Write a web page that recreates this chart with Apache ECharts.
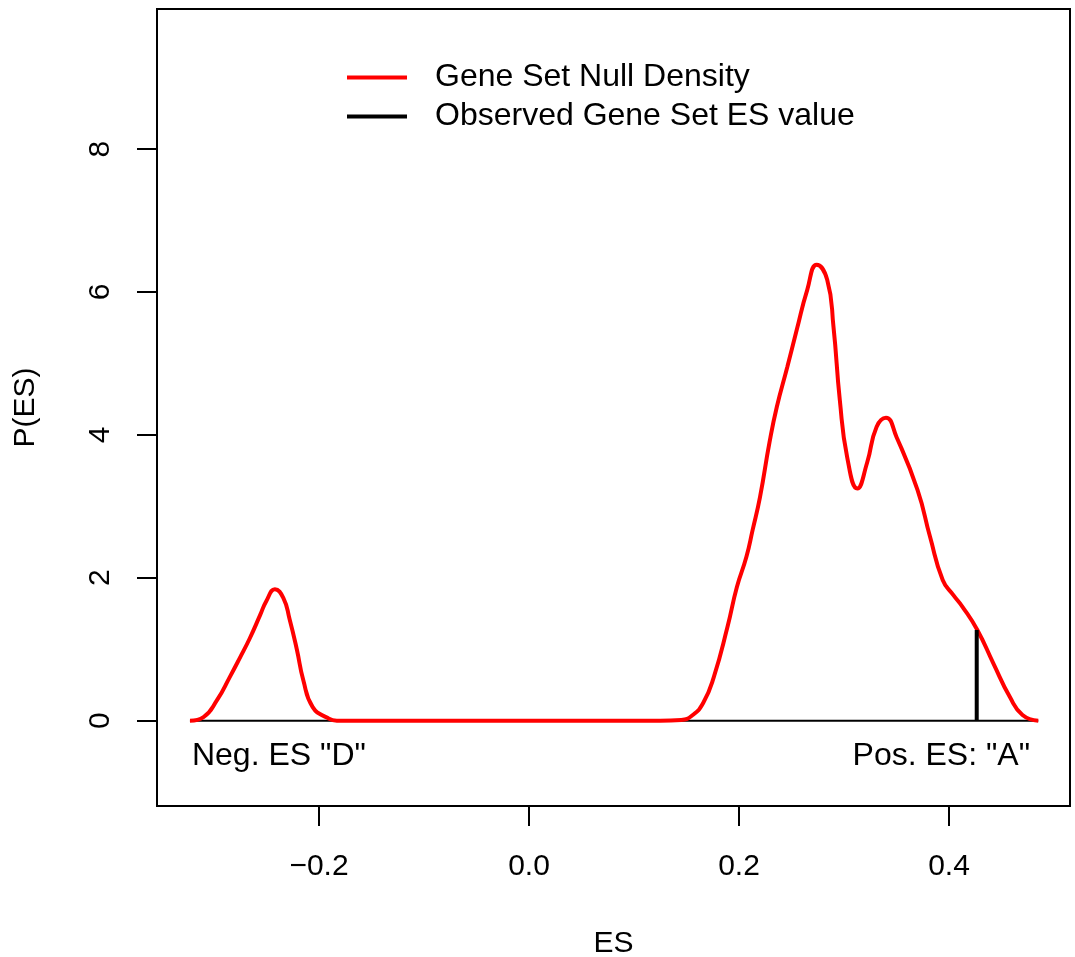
<!DOCTYPE html>
<html>
<head>
<meta charset="utf-8">
<script src="https://cdn.jsdelivr.net/npm/echarts@6/dist/echarts.min.js"></script>
<style>
html,body{margin:0;padding:0;background:#fff;}
#chart{width:1075px;height:957px;}
</style>
</head>
<body>
<div id="chart"></div>
<script>
// ES grid values (x) and null density values (y)
const esValues = [
  -0.3229, -0.310, -0.297, -0.285, -0.275, -0.266, -0.256, -0.250, -0.242, -0.234,
  -0.228, -0.221, -0.215, -0.206, -0.192, -0.183, -0.15, -0.05, 0.05, 0.1248,
  0.145, 0.156, 0.166, 0.176, 0.189, 0.198, 0.207, 0.213, 0.220, 0.229,
  0.236, 0.246, 0.255, 0.265, 0.274, 0.284, 0.290, 0.296, 0.303, 0.3127,
  0.322, 0.331, 0.340, 0.350, 0.370, 0.382, 0.394, 0.404, 0.413, 0.427,
  0.442, 0.458, 0.470, 0.485
];
const density = [
  0, 0.05, 0.29, 0.61, 0.89, 1.15, 1.48, 1.68, 1.84, 1.72,
  1.42, 0.99, 0.57, 0.19, 0.04, 0, 0, 0, 0, 0,
  0.01, 0.08, 0.25, 0.61, 1.31, 1.87, 2.29, 2.67, 3.13, 3.89,
  4.39, 4.95, 5.47, 6.03, 6.38, 6.17, 5.51, 4.49, 3.69, 3.25,
  3.61, 4.11, 4.24, 3.97, 3.23, 2.57, 1.97, 1.76, 1.59, 1.27,
  0.81, 0.33, 0.08, 0
];
const observedES = 0.4264;
const observedDensity = 1.27;
const xTicks = [-0.2, 0.0, 0.2, 0.4];
const yTicks = [0, 2, 4, 6, 8];
const seriesNames = ['Gene Set Null Density', 'Observed Gene Set ES value'];
const annotations = [
  { x: -0.321, y: -0.49, text: 'Neg. ES "D"', side: 'right' },
  { x: 0.4772, y: -0.49, text: 'Pos. ES: "A"', side: 'left' }
];

const FONT = "'Liberation Sans', Arial, Helvetica, sans-serif";
const chart = echarts.init(document.getElementById('chart'), null, { renderer: 'canvas' });

const densityData = esValues.map((v, i) => [v, density[i]]);
const baselineData = [[esValues[0], 0], [esValues[esValues.length - 1], 0]];
const observedData = [[observedES, 0], [observedES, observedDensity]];

const option = {
  animation: false,
  backgroundColor: '#fff',
  textStyle: { fontFamily: FONT },
  grid: {
    left: 157, top: 9, width: 913, height: 797,
    outerBoundsMode: 'none', containLabel: false,
    show: true, borderColor: '#000', borderWidth: 2, backgroundColor: 'transparent'
  },
  legend: {
    data: seriesNames,
    orient: 'vertical',
    left: 342, top: 53,
    icon: 'rect',
    itemWidth: 60, itemHeight: 4,
    itemGap: 0,
    textStyle: { fontSize: 32, color: '#000', fontFamily: FONT, lineHeight: 39, padding: [0, 0, 0, 23] }
  },
  xAxis: {
    type: 'value',
    min: -0.35429, max: 0.51524,
    name: 'ES', nameLocation: 'middle', nameGap: 123,
    nameTextStyle: { fontSize: 30, color: '#000', fontFamily: FONT },
    axisLine: { show: false, onZero: false },
    splitLine: { show: false },
    axisTick: { show: true, inside: false, length: 20, customValues: xTicks, lineStyle: { color: '#000', width: 2 } },
    axisLabel: {
      show: true, margin: 46, customValues: xTicks, fontSize: 30, color: '#000', fontFamily: FONT,
      formatter: v => (v < 0 ? '\u2212' : '') + Math.abs(v).toFixed(1)
    }
  },
  yAxis: {
    type: 'value',
    min: -1.194, max: 9.96,
    name: 'P(ES)', nameLocation: 'middle', nameGap: 116,
    nameTextStyle: { fontSize: 30, color: '#000', fontFamily: FONT },
    axisLine: { show: false, onZero: false },
    splitLine: { show: false },
    axisTick: { show: true, inside: false, length: 20, customValues: yTicks, lineStyle: { color: '#000', width: 2 } },
    axisLabel: {
      show: true, margin: 41, rotate: 90, customValues: yTicks, fontSize: 30, color: '#000', fontFamily: FONT,
      formatter: v => String(v)
    }
  },
  series: [
    {
      name: 'baseline', type: 'line', data: baselineData, symbol: 'none',
      lineStyle: { color: '#000', width: 2 }, silent: true, z: 1
    },
    {
      name: seriesNames[0], type: 'line', data: densityData, symbol: 'none',
      smooth: 0.5,
      color: '#ff0000',
      lineStyle: { color: '#ff0000', width: 4 }, z: 2
    },
    {
      name: seriesNames[1], type: 'line', data: observedData, symbol: 'none',
      color: '#000',
      lineStyle: { color: '#000', width: 4 }, z: 3
    },
    {
      name: 'annotations', type: 'scatter', symbolSize: 0, silent: true,
      itemStyle: { opacity: 1 },
      data: annotations.map(a => ({
        value: [a.x, a.y],
        label: {
          show: true, position: a.side, distance: 0, formatter: a.text,
          fontSize: 32, color: '#000', fontFamily: FONT, opacity: 1
        }
      }))
    }
  ]
};
chart.setOption(option);
</script>
</body>
</html>
